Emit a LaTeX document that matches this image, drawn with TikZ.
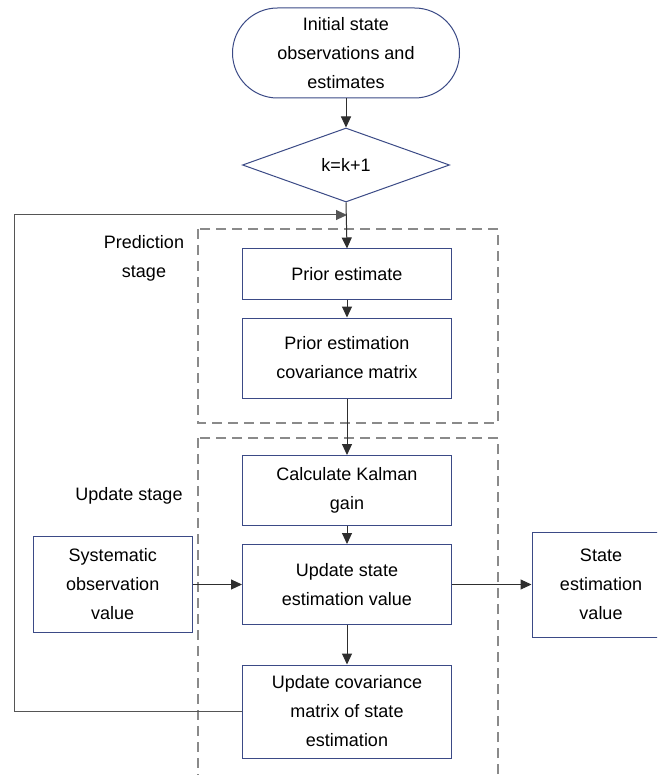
\documentclass[tikz,border=0pt]{standalone}
\usepackage{fontspec}
\setmainfont{Liberation Sans}
\usetikzlibrary{shapes.geometric,arrows.meta}
\definecolor{boxc}{HTML}{3B4A86}
\definecolor{linec}{HTML}{2E2E2E}
\definecolor{dashc}{HTML}{8A8A8A}
\definecolor{fbc}{HTML}{555555}
\begin{document}
\begin{tikzpicture}[x=1pt,y=-1pt,
  every node/.style={font=\fontsize{18}{29}\selectfont, align=center, text=black},
  flowbox/.style={draw=boxc, line width=1pt, rectangle, inner sep=0pt},
  conn/.style={draw=linec, line width=1pt, -{Triangle[length=11pt,width=10pt]}},
  stagebox/.style={draw=dashc, line width=1.3pt, dash pattern=on 10pt off 6pt}]
\useasboundingbox (0,0) rectangle (657,775);
\clip (0,0) rectangle (657,775);
\fill[white] (0,0) rectangle (657,775);
% stage frames
\draw[stagebox] (198,229) rectangle (498,423);
\draw[stagebox] (198,438) rectangle (498,800);
\node (predlbl) at (144,258) {Prediction\\stage};
\node (updlbl) at (129,496) {Update stage};
% nodes
\node[draw=boxc, line width=1pt, rectangle, rounded corners=45pt, minimum width=227pt, minimum height=90pt, inner sep=0pt] (init) at (346,53) {Initial state\\observations and\\estimates};
\node[draw=boxc, line width=1pt, diamond, aspect=2.8, inner sep=0pt, minimum width=207pt, minimum height=74pt] (dia) at (346,165) {k=k+1};
\node[flowbox, minimum width=209pt, minimum height=50pt] (prior) at (347,274) {Prior estimate};
\node[flowbox, minimum width=209pt, minimum height=80pt] (priorcov) at (347,358) {Prior estimation\\covariance matrix};
\node[flowbox, minimum width=209pt, minimum height=70pt] (kalman) at (347,490.5) {Calculate Kalman\\gain};
\node[flowbox, minimum width=209pt, minimum height=80pt] (upd) at (347,584.5) {Update state\\estimation value};
\node[flowbox, minimum width=209pt, minimum height=93pt] (updcov) at (347,711.5) {Update covariance\\matrix of state\\estimation};
\node[flowbox, minimum width=158.5pt, minimum height=96pt] (sys) at (112.75,584.5) {Systematic\\observation\\value};
\node[flowbox, minimum width=138pt, minimum height=105pt] (state) at (601,584.5) {State\\estimation\\value};
% connectors
\coordinate (fbtop) at (347,215);
\coordinate (fbleft) at (14,215);
\coordinate (fbbot) at (14,711.5);
\draw[conn] (init.south) -- (dia.north);
\draw[conn] (dia.south) -- (prior.north);
\draw[conn, draw=fbc] (updcov.west) -- (fbbot) -- (fbleft) -- (fbtop);
\draw[conn] (prior.south) -- (priorcov.north);
\draw[conn] (priorcov.south) -- (kalman.north);
\draw[conn] (kalman.south) -- (upd.north);
\draw[conn] (upd.south) -- (updcov.north);
\draw[conn] (sys.east) -- (upd.west);
\draw[conn] (upd.east) -- (state.west);
\end{tikzpicture}
\end{document}
